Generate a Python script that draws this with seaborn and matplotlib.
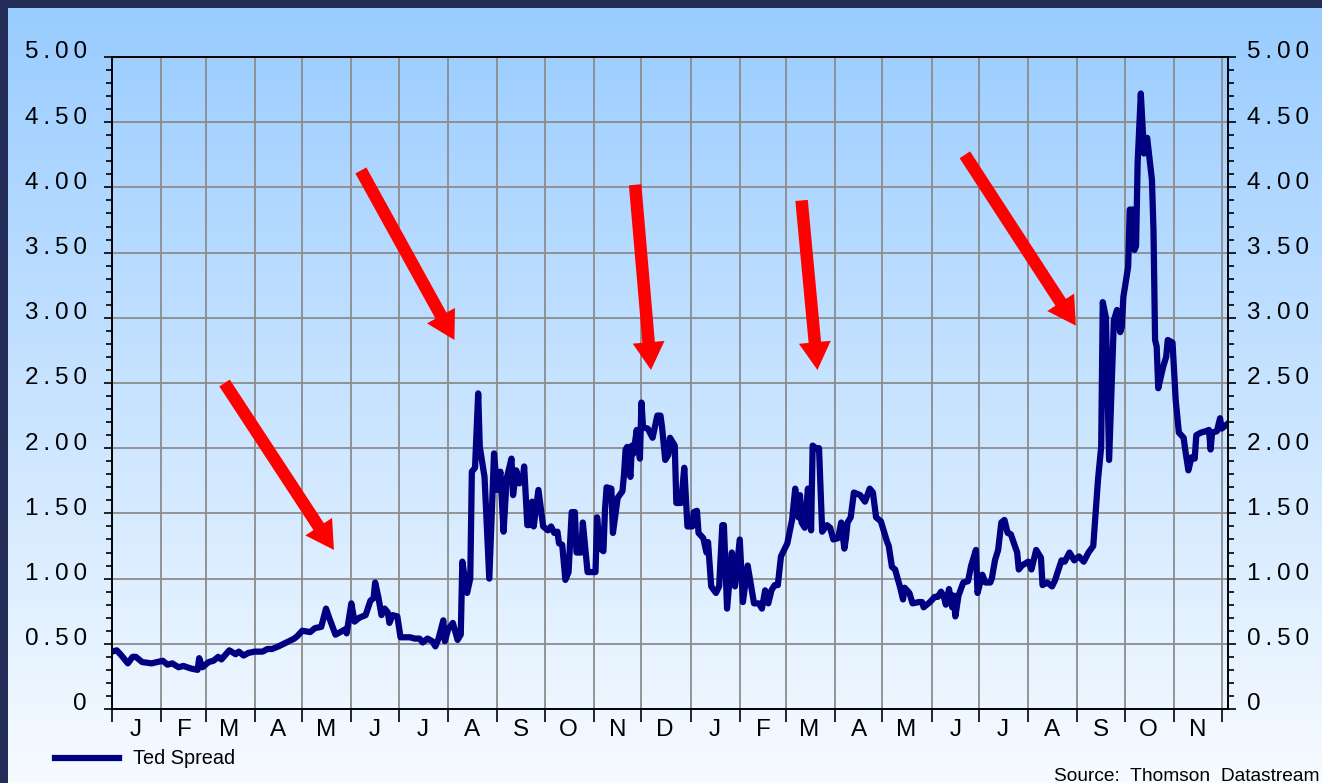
import numpy as np
import pandas as pd
import matplotlib
matplotlib.use("Agg")
import matplotlib.pyplot as plt
import matplotlib.dates as mdates
from matplotlib.ticker import MultipleLocator, FixedLocator, FuncFormatter, NullFormatter
from matplotlib.colors import LinearSegmentedColormap
from matplotlib.transforms import ScaledTranslation
import seaborn as sns

# Ted Spread (days counted from 1 Jan of each year)
days_2007 = [0, 3, 6, 10, 13, 15, 19, 25, 32, 35, 38, 42, 45, 50, 54, 55, 57, 61, 64, 67,
             69, 74, 78, 80, 83, 86, 90, 95, 98, 101, 105, 110, 115, 117, 120, 125, 128, 132, 135, 137,
             141, 144, 147, 148, 151, 153, 156, 160, 163, 165, 166, 168, 170, 172, 174, 175, 177, 180, 182, 188,
             191, 194, 196, 199, 202, 204, 206, 209, 210, 212, 215, 218, 220, 221, 224, 226, 227, 229, 231, 232,
             235, 238, 241, 243, 245, 247, 249, 252, 253, 255, 257, 259, 260, 262, 263, 265, 266, 269, 272, 275,
             277, 279, 281, 282, 284, 286, 288, 290, 292, 293, 296, 297, 300, 305, 306, 308, 310, 311, 312, 315,
             316, 319, 322, 323, 324, 325, 327, 328, 329, 331, 333, 334, 335, 338, 341, 344, 346, 347, 349, 351,
             352, 355, 356, 359, 361, 363]
ted_2007 = [0.44, 0.45, 0.41, 0.35, 0.40, 0.40, 0.36, 0.35, 0.37, 0.34, 0.35, 0.32, 0.33, 0.31, 0.30, 0.39, 0.32, 0.36, 0.37, 0.40,
            0.38, 0.45, 0.42, 0.44, 0.41, 0.43, 0.44, 0.44, 0.46, 0.46, 0.48, 0.51, 0.54, 0.56, 0.60, 0.59, 0.62, 0.63, 0.77, 0.70,
            0.57, 0.59, 0.61, 0.58, 0.81, 0.67, 0.70, 0.72, 0.83, 0.85, 0.97, 0.86, 0.72, 0.77, 0.74, 0.66, 0.72, 0.71, 0.55, 0.55,
            0.54, 0.54, 0.51, 0.54, 0.52, 0.48, 0.54, 0.68, 0.52, 0.61, 0.66, 0.53, 0.57, 1.13, 0.89, 1.00, 1.82, 1.85, 2.42, 2.01,
            1.78, 1.00, 1.96, 1.68, 1.82, 1.36, 1.77, 1.92, 1.64, 1.83, 1.73, 1.76, 1.86, 1.41, 1.41, 1.59, 1.40, 1.68, 1.40, 1.37,
            1.40, 1.35, 1.36, 1.27, 1.26, 0.99, 1.05, 1.51, 1.51, 1.20, 1.20, 1.43, 1.05, 1.05, 1.47, 1.23, 1.21, 1.53, 1.70, 1.69,
            1.35, 1.62, 1.67, 1.80, 1.99, 2.01, 1.78, 2.02, 1.96, 2.14, 1.92, 2.35, 2.16, 2.15, 2.08, 2.25, 2.25, 2.16, 1.91, 1.95,
            2.08, 2.02, 1.58, 1.58, 1.85, 1.40]

days_2008 = [1, 2, 4, 5, 8, 10, 11, 13, 16, 18, 20, 21, 23, 26, 28, 31, 33, 36, 40, 43,
             45, 47, 49, 51, 53, 55, 57, 61, 64, 66, 68, 69, 70, 72, 74, 76, 77, 79, 81, 83,
             86, 88, 90, 93, 95, 97, 98, 99, 101, 103, 107, 110, 113, 115, 117, 118, 120, 124, 125, 127,
             129, 132, 134, 135, 138, 140, 144, 146, 147, 151, 154, 156, 158, 160, 161, 163, 165, 166, 167, 169,
             172, 175, 176, 177, 180, 181, 184, 186, 189, 190, 192, 194, 196, 198, 200, 202, 204, 206, 207, 209,
             213, 215, 218, 221, 222, 225, 228, 230, 231, 234, 236, 239, 242, 245, 248, 251, 254, 257, 259, 260,
             262, 264, 267, 269, 271, 272, 273, 276, 277, 279, 280, 281, 282, 284, 286, 288, 291, 292, 293, 294,
             295, 298, 300, 301, 304, 306, 308, 311, 312, 314, 316, 318, 319, 322, 325, 327, 328, 329, 332, 334,
             335, 338]
ted_2008 = [1.40, 1.51, 1.52, 1.35, 1.31, 1.20, 1.28, 0.94, 0.89, 0.94, 1.41, 1.41, 0.77, 1.20, 0.94, 1.30, 0.82, 1.10, 0.81, 0.81,
            0.77, 0.91, 0.81, 0.91, 0.95, 0.95, 1.17, 1.27, 1.45, 1.69, 1.47, 1.64, 1.43, 1.39, 1.69, 1.37, 2.02, 2.00, 2.00, 1.36,
            1.41, 1.39, 1.30, 1.31, 1.43, 1.23, 1.31, 1.43, 1.47, 1.66, 1.64, 1.59, 1.69, 1.66, 1.47, 1.46, 1.44, 1.28, 1.25, 1.09,
            1.07, 0.94, 0.84, 0.93, 0.89, 0.81, 0.82, 0.82, 0.78, 0.82, 0.86, 0.86, 0.90, 0.85, 0.80, 0.92, 0.78, 0.87, 0.71, 0.87,
            0.97, 0.98, 1.04, 1.10, 1.22, 0.89, 1.03, 0.97, 0.97, 1.00, 1.14, 1.22, 1.43, 1.45, 1.35, 1.34, 1.27, 1.20, 1.07, 1.10,
            1.13, 1.07, 1.22, 1.16, 0.95, 0.97, 0.94, 0.99, 1.03, 1.14, 1.13, 1.20, 1.14, 1.17, 1.13, 1.20, 1.25, 1.76, 2.01, 3.12,
            3.00, 1.91, 2.98, 3.06, 2.89, 2.93, 3.16, 3.39, 3.83, 3.83, 3.52, 3.55, 4.19, 4.72, 4.26, 4.38, 4.06, 3.67, 2.83, 2.78,
            2.46, 2.62, 2.70, 2.83, 2.81, 2.37, 2.12, 2.08, 1.99, 1.83, 1.93, 1.92, 2.10, 2.12, 2.13, 2.14, 1.99, 2.12, 2.13, 2.23,
            2.15, 2.18]

# red arrows: tail -> head
arrow_tail_dates = ["2007-03-13", "2007-06-07", "2007-11-27", "2008-03-11", "2008-06-22"]
arrow_tail_vals = [2.50, 4.13, 4.02, 3.90, 4.25]
arrow_head_dates = ["2007-05-21", "2007-08-05", "2007-12-07", "2008-03-21", "2008-08-31"]
arrow_head_vals = [1.22, 2.83, 2.60, 2.60, 2.94]

y_ticks = [0, 0.5, 1.0, 1.5, 2.0, 2.5, 3.0, 3.5, 4.0, 4.5, 5.0]
y_labels = ["0", "0.50", "1.00", "1.50", "2.00", "2.50", "3.00", "3.50", "4.00", "4.50", "5.00"]
month_initials = ["J", "F", "M", "A", "M", "J", "J", "A", "S", "O", "N", "D"]

dates = list(pd.Timestamp("2007-01-01") + pd.to_timedelta(days_2007, unit="D")) + \
        list(pd.Timestamp("2008-01-01") + pd.to_timedelta(days_2008, unit="D"))
df = pd.DataFrame({"date": dates, "ted": ted_2007 + ted_2008})

plt.rcParams["font.family"] = ["Liberation Sans", "DejaVu Sans"]

W, H = 1322, 783
fig = plt.figure(figsize=(W / 100, H / 100), dpi=100, facecolor="#232d57")

# light gradient panel behind everything
bg = fig.add_axes([8 / W, 0, 1 - 8 / W, 1 - 8 / H])
grad = np.linspace(0, 1, 256)[:, None]
bg.imshow(grad, aspect="auto", cmap=LinearSegmentedColormap.from_list("panel", ["#99ccff", "#f7fbff"]),
          extent=[0, 1, 0, 1])
bg.axis("off")

ax = fig.add_axes([112 / W, 1 - 709 / H, (1228 - 112) / W, (709 - 57) / H])
ax.set_facecolor("none")

sns.lineplot(data=df, x="date", y="ted", ax=ax, color="#000080", linewidth=4.5, label="Ted Spread", zorder=4)
ax.set_xlabel("")
ax.set_ylabel("")

ax.set_xlim(mdates.date2num(pd.Timestamp("2007-01-01")), mdates.date2num(pd.Timestamp("2008-12-05")))
ax.set_ylim(0, 5)

# x axis: boundaries at month starts, letters mid-month
ax.xaxis.set_major_locator(mdates.MonthLocator(bymonthday=1))
ax.xaxis.set_major_formatter(NullFormatter())
ax.xaxis.set_minor_locator(mdates.MonthLocator(bymonthday=16))
ax.xaxis.set_minor_formatter(FuncFormatter(lambda v, pos: month_initials[mdates.num2date(v).month - 1]))
ax.tick_params(axis="x", which="major", length=9, width=1.2, color="black")
ax.tick_params(axis="x", which="minor", length=0, pad=7, labelsize=17.5)


def spaced(s):
    return "\u2009".join(s)


ax.yaxis.set_major_locator(FixedLocator(y_ticks))
ax.set_yticklabels([spaced(s) for s in y_labels])
ax.yaxis.set_minor_locator(MultipleLocator(0.1))
ax.tick_params(axis="y", which="major", length=6, width=1.2, pad=12, labelsize=17.5)
ax.tick_params(axis="y", which="minor", length=4.5, width=1.2)

ax2 = ax.twinx()
ax2.set_ylim(0, 5)
ax2.yaxis.set_major_locator(FixedLocator(y_ticks))
ax2.set_yticklabels([spaced(s) for s in y_labels])
ax2.yaxis.set_minor_locator(MultipleLocator(0.1))
ax2.tick_params(axis="y", which="major", length=6, width=1.2, pad=8, labelsize=17.5)
ax2.tick_params(axis="y", which="minor", length=4.5, width=1.2)

shift = ScaledTranslation(0, 0.07, fig.dpi_scale_trans)
for lbl in ax.get_yticklabels() + ax2.get_yticklabels():
    lbl.set_transform(lbl.get_transform() + shift)

ax.grid(True, which="major", axis="both", color="#8c8c8c", linewidth=1.3)
ax.set_axisbelow(True)
for a in (ax, ax2):
    for sp in a.spines.values():
        sp.set_color("black")
        sp.set_linewidth(1.2)

for td, tv, hd, hv in zip(arrow_tail_dates, arrow_tail_vals, arrow_head_dates, arrow_head_vals):
    ax.annotate("", xy=(mdates.date2num(pd.Timestamp(hd)), hv),
                xytext=(mdates.date2num(pd.Timestamp(td)), tv),
                arrowprops=dict(facecolor="#ff0000", edgecolor="none", width=9, headwidth=23,
                                headlength=20, shrink=0),
                zorder=6)

ax.legend(loc="center left", bbox_to_anchor=(55 / W, 1 - 759 / H), bbox_transform=fig.transFigure,
          frameon=False, fontsize=14.3, handlelength=3.2, handletextpad=0.75, borderpad=0, borderaxespad=0)

fig.text(1320 / W, 1 - 781 / H, "Source:  Thomson  Datastream", ha="right", va="baseline", fontsize=13.8)

fig.savefig("out.png", dpi=100, facecolor=fig.get_facecolor())
